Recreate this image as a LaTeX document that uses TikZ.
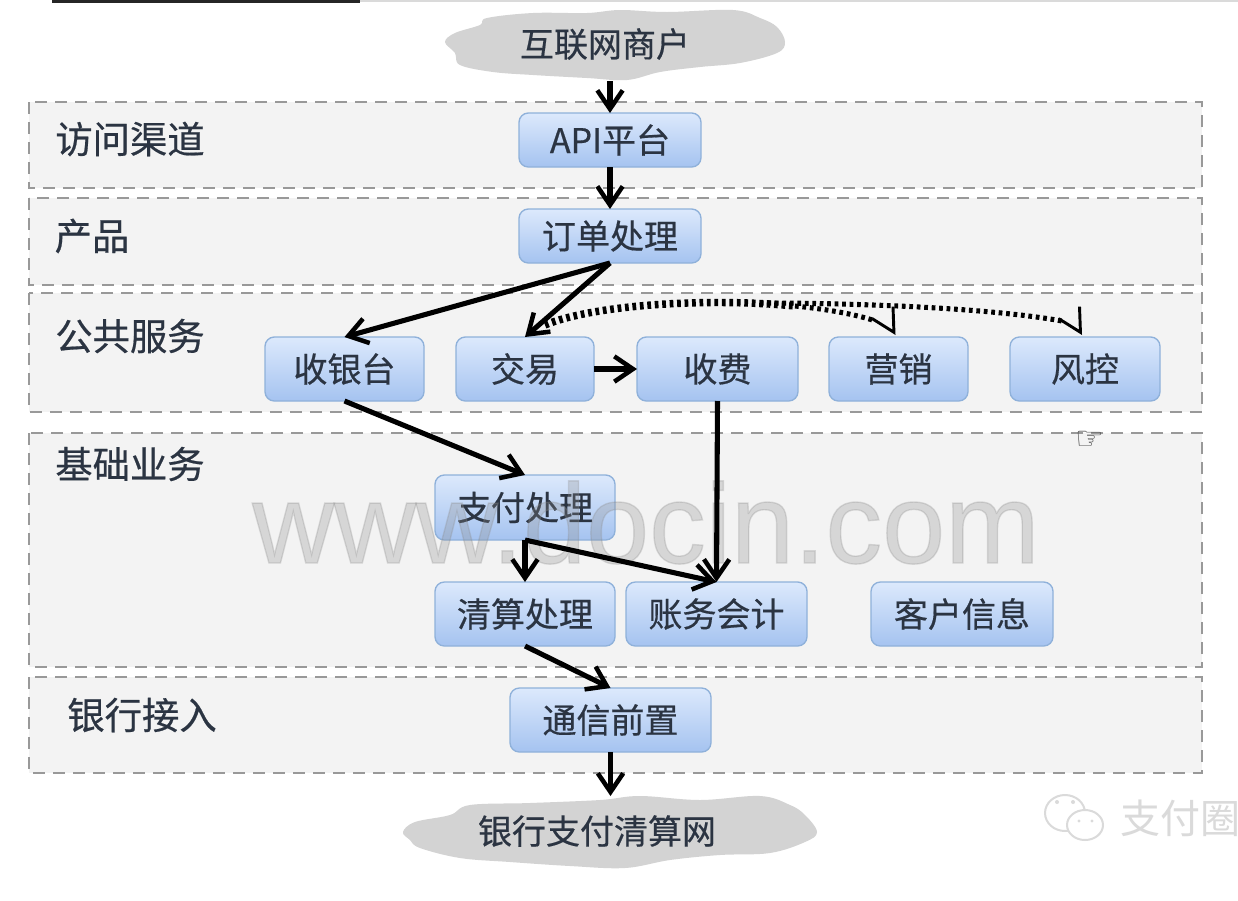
\documentclass[tikz,border=0pt]{standalone}
\usepackage{fontspec}
\setmainfont{Noto Sans CJK SC}
\newfontfamily\medfont[FakeBold=0.5]{Noto Sans CJK SC}
\newfontfamily\wmfont[FakeBold=1.2]{Liberation Sans}
\newfontfamily\symfont{DejaVu Sans}
\usetikzlibrary{arrows.meta,calc}
\definecolor{bandfill}{HTML}{F3F3F3}
\definecolor{bandline}{HTML}{999999}
\definecolor{boxtop}{HTML}{DCE9FC}
\definecolor{boxbot}{HTML}{A5C3F0}
\definecolor{boxline}{HTML}{8FB1DA}
\definecolor{inktext}{HTML}{2B3442}
\definecolor{cloudfill}{HTML}{D3D3D3}
\definecolor{faint}{HTML}{DADADA}
\tikzset{
  band/.style={fill=bandfill,draw=bandline,line width=1.5pt,dash pattern=on 9pt off 6pt},
  bandlabel/.style={text=inktext,font=\medfont\fontsize{28}{30}\selectfont,inner sep=0pt},
  boxn/.style 2 args={rounded corners=7pt,top color=boxtop,bottom color=boxbot,draw=boxline,line width=1pt,
    minimum width=#1*0.75pt,minimum height=#2*0.75pt,inner sep=0pt,outer sep=0pt,text=inktext,
    font=\medfont\fontsize{25.5}{28}\selectfont},
  cloudtext/.style 2 args={minimum width=#1*0.75pt,minimum height=#2*0.75pt,inner sep=0pt,outer sep=0pt,
    text=inktext,font=\medfont\fontsize{25.5}{28}\selectfont},
  flow/.style={draw=black,line width=3.8pt,-{Straight Barb[length=14pt,width=19pt,line width=3.4pt]}},
  dotthick/.style={draw=black,line width=5.6pt,dash pattern=on 2.8pt off 2.8pt},
  dotthin/.style={draw=black,line width=3.8pt,dash pattern=on 2.8pt off 2.8pt},
  dothead/.style={draw=black,line width=2pt,-{Straight Barb[length=17pt,width=18pt,line width=2.2pt,sep=0pt]}},
}
\begin{document}
\begin{tikzpicture}[x=0.75pt,y=-0.75pt]
\useasboundingbox (0,0) rectangle (1238,900);
\fill[white] (0,0) rectangle (1238,900);
\fill[faint] (360,0) rectangle (1238,1.5);
\fill[black!85] (52,0) rectangle (360,2.5);

% bands
\draw[band] (29,102) rectangle (1202,188);
\draw[band] (29,198) rectangle (1202,285);
\draw[band] (29,293) rectangle (1202,412);
\draw[band] (29,433) rectangle (1202,667);
\draw[band] (29,677) rectangle (1202,773);

\node[bandlabel] (l1) at (130,139) {访问渠道};
\node[bandlabel] (l2) at (92,236) {产品};
\node[bandlabel] (l3) at (130,336) {公共服务};
\node[bandlabel] (l4) at (130,464) {基础业务};
\node[bandlabel] (l5) at (142,715) {银行接入};

% clouds
\fill[cloudfill] plot[smooth cycle,tension=0.6] coordinates {(445,42)(455,33)(480,25)(487,18)(533,13)(587,13)(620,10)(667,12)(733,10)(760,18)(777,27)(785,42)(777,53)(740,63)(700,67)(660,72)(627,80)(587,78)(533,75)(493,72)(460,65)(455,53)};
\fill[cloudfill] plot[smooth cycle,tension=0.6] coordinates {(403,832)(415,822)(450,815)(470,805)(530,803)(600,800)(640,796)(700,800)(760,796)(790,805)(805,815)(817,832)(805,842)(770,853)(720,855)(670,860)(625,868)(570,866)(510,862)(460,858)(420,848)(410,840)};
\node[cloudtext={340}{74}] (merchant) at (605,44) {互联网商户};
\node[cloudtext={414}{70}] (bank) at (597,831) {银行支付清算网};

% boxes
\node[boxn={182}{54}] (api) at (610,140) {API平台};
\node[boxn={182}{54}] (order) at (610,236) {订单处理};
\node[boxn={159}{64}] (cashier) at (344.5,369) {收银台};
\node[boxn={138}{64}] (trade) at (525,369) {交易};
\node[boxn={161}{64}] (fee) at (717.5,369) {收费};
\node[boxn={139}{64}] (market) at (898.5,369) {营销};
\node[boxn={150}{64}] (risk) at (1085,369) {风控};
\node[boxn={180}{65}] (pay) at (525,507.5) {支付处理};
\node[boxn={180}{64}] (clear) at (525,614) {清算处理};
\node[boxn={181}{64}] (acct) at (716.5,614) {账务会计};
\node[boxn={182}{64}] (cust) at (962,614) {客户信息};
\node[boxn={201}{64}] (comm) at (610.5,720) {通信前置};

% watermarks and marks
\node[anchor=base,inner sep=0pt,text=black!45,text opacity=0.28,font=\wmfont\fontsize{85}{90}\selectfont] (wm) at (646,563) {www.docin.com};
\node[inner sep=0pt,text=black!70,font=\symfont\fontsize{24}{26}\selectfont] (hand) at (1090,440) {☞};
\draw[faint,line width=1.5pt] (1065,813) ellipse (20 and 18);
\draw[faint,line width=1.5pt,fill=white] (1085,825) ellipse (18 and 15);
\fill[faint] (1057,802) circle (2) (1073,802) circle (2) (1079,821) circle (1.7) (1092,821) circle (1.7);
\node[anchor=west,inner sep=0pt,text=faint,font=\fontsize{30}{32}\selectfont] (wx) at (1120,818) {支付圈};

% connectors
\draw[flow] (merchant.south -| api.north) -- (api.north);
\draw[flow] (api.south) -- (order.north);
\draw[flow] (order.south) -- (cashier.north);
\draw[flow] (order.south) -- (trade.north);
\draw[flow] (trade.east) -- (fee.west);
\draw[flow] (cashier.south) -- (pay.north);
\draw[flow] (fee.south) -- (acct.north);
\draw[flow] (pay.south) -- (clear.north);
\draw[flow] (pay.south) -- (acct.north);
\draw[flow] (clear.south) -- (comm.north);
\draw[flow] (comm.south) -- (comm.south |- bank.north);

\coordinate (ds) at ($(trade.north)+(20,-12)$);
\coordinate (mk) at ($(market.north)+(-3,-2)$);
\coordinate (rk) at ($(risk.north)+(-3,-2)$);
\draw[dotthick] (ds) .. controls (590,306) and (700,297) .. (795,306);
\draw[dotthin] (795,306) .. controls (825,309) and (855,314) .. ($(mk)+(-20,-14)$);
\draw[dotthin] (760,303) .. controls (860,303) and (990,308) .. ($(rk)+(-20,-14)$);
\draw[dothead] ($(mk)+(-3,-5.2)$) -- (mk);
\draw[dothead] ($(rk)+(-3,-5.2)$) -- (rk);
\end{tikzpicture}
\end{document}
